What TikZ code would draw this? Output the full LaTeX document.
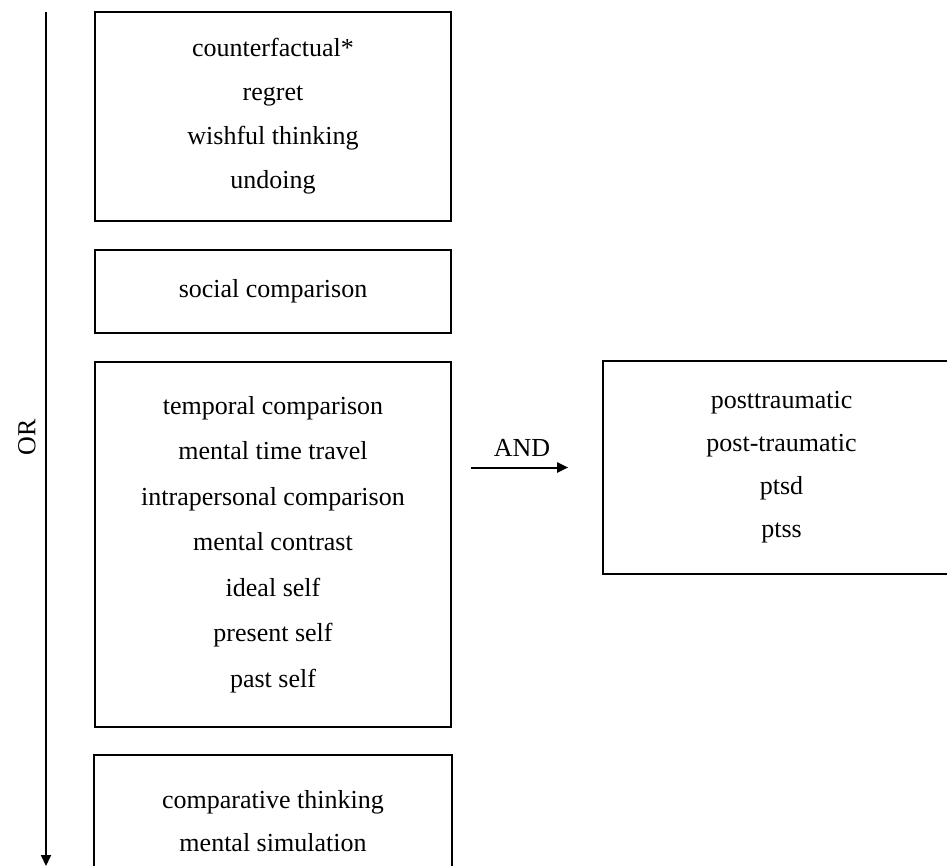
\documentclass[tikz,border=0pt]{standalone}
\usepackage{fontspec}
\setmainfont{Liberation Serif}
\usetikzlibrary{arrows.meta, positioning}

\begin{document}
\begin{tikzpicture}[x=1pt, y=-1pt,
  termbox/.style={line width=1.7pt, minimum width=356pt, inner sep=0pt, align=center,
    font=\fontsize{26}{44}\selectfont},
  keyword/.style={font=\fontsize{26}{30}\selectfont, inner sep=0pt},
  flow/.style={line width=2pt, -{Triangle[length=11pt, width=10pt]}}]
\useasboundingbox (0,0) rectangle (947,866);

% Search term groups (left column)
\node[termbox, draw, minimum height=209pt] (counter) at (273,116.5)
  {counterfactual*\\regret\\wishful thinking\\undoing};
\node[termbox, draw, minimum height=83pt] (social) at (273,291.5)
  {social comparison};
\node[termbox, draw, minimum height=365pt, font=\fontsize{26}{45.5}\selectfont] (temporal) at (273,544.5)
  {temporal comparison\\mental time travel\\intrapersonal comparison\\mental contrast\\ideal self\\present self\\past self};
\node[termbox, minimum height=130pt, font=\fontsize{26}{43}\selectfont] (simul) at (273,821)
  {comparative thinking\\mental simulation};
\draw[line width=2pt] (simul.south west) -- (simul.north west) -- (simul.north east) -- (simul.south east);

% Outcome terms (right)
\node[termbox, draw, minimum width=357pt, minimum height=213pt, font=\fontsize{26}{43}\selectfont] (ptsd) at (781.5,467.5)
  {posttraumatic\\post-traumatic\\ptsd\\ptss};

% OR arrow
\coordinate (ortop) at (46,12);
\coordinate (orbottom) at (46,866);
\draw[flow] (ortop) -- (orbottom);
\node[keyword, rotate=90] (orlabel) at (27,437) {OR};

% AND arrow
\draw[flow, shorten <=19pt, shorten >=34pt] (temporal.east |- ptsd.west) -- (ptsd.west)
  node[keyword, midway, above=10pt, xshift=-5pt] (andlabel) {AND};
\end{tikzpicture}
\end{document}
